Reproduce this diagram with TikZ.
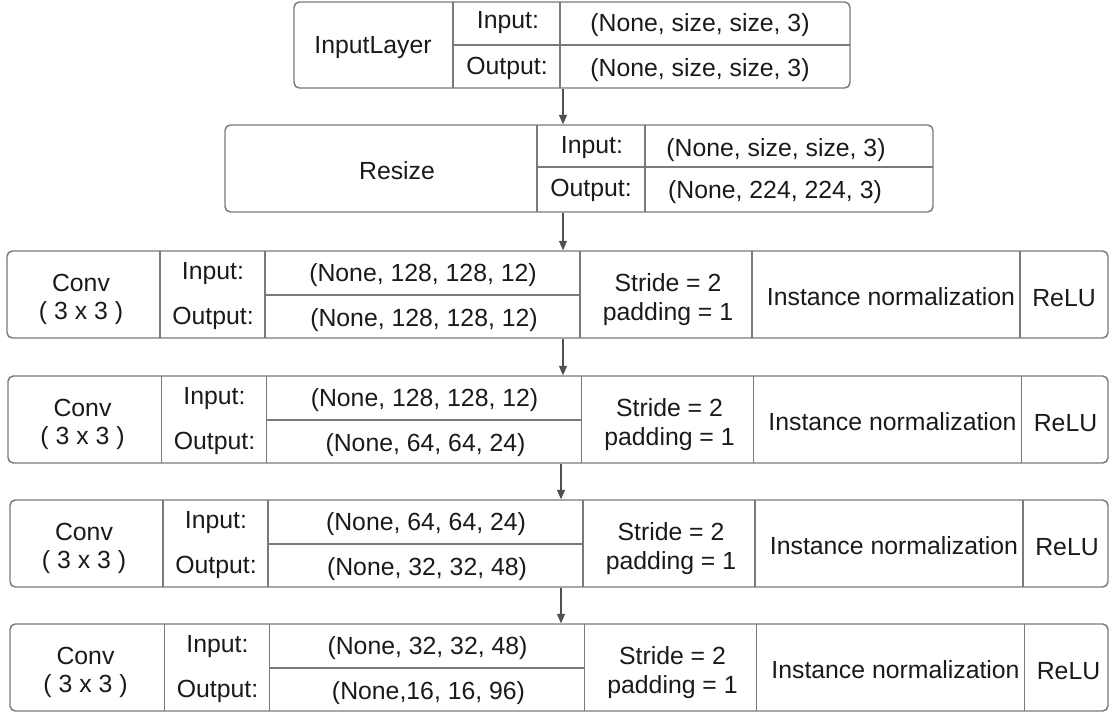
\documentclass[tikz,border=0pt]{standalone}
\usepackage{fontspec}
\setmainfont{Liberation Sans}
\usetikzlibrary{arrows.meta,fit}
\definecolor{linegray}{HTML}{7A7A7A}
\definecolor{arrowgray}{HTML}{505050}
\definecolor{textcol}{HTML}{1A1A1A}
\begin{document}
\begin{tikzpicture}[x=0.75pt,y=-0.75pt,
  outer/.style={draw=linegray, line width=1.1pt, rounded corners=4pt, rectangle, inner sep=0pt},
  div/.style={draw=linegray, line width=1pt},
  arr/.style={draw=arrowgray, line width=1pt, -{Triangle[length=7pt,width=6pt]}},
  txt/.style={font=\fontsize{18.6}{22}\selectfont, text=textcol, inner sep=0pt, yshift=-1.2pt}]
\useasboundingbox (0,0) rectangle (1110,713);
% InputLayer
\node[outer, fit={(294,2) (850,88)}] (in1) {};
\draw[div] (453,2) -- (453,88);
\draw[div] (560,2) -- (560,88);
\draw[div] (453,45) -- (850,45);
\node[txt] (in1name) at (373,46) {InputLayer};
\node[txt] (in1il) at (508,21) {Input:};
\node[txt] (in1ol) at (507,67) {Output:};
\node[txt] (in1iv) at (700,23) {(None, size, size, 3)};
\node[txt] (in1ov) at (700,68) {(None, size, size, 3)};
% Resize
\node[outer, fit={(225,125) (933,212)}] (rs) {};
\draw[div] (537,125) -- (537,212);
\draw[div] (645,125) -- (645,212);
\draw[div] (537,167) -- (933,167);
\node[txt] (rsname) at (397,169) {Resize};
\node[txt] (rsil) at (592,146) {Input:};
\node[txt] (rsol) at (591,189) {Output:};
\node[txt] (rsiv) at (776,148) {(None, size, size, 3)};
\node[txt] (rsov) at (775,190) {(None, 224, 224, 3)};
% Conv rows
\foreach \T/\d/\e/\i/\o [count=\k] in {
  251/0/0/{(None, 128, 128, 12)}/{(None, 128, 128, 12)},
  376/1/1.5/{(None, 128, 128, 12)}/{(None, 64, 64, 24)},
  500/3/3/{(None, 64, 64, 24)}/{(None, 32, 32, 48)},
  624/3/4.5/{(None, 32, 32, 48)}/{(None,16, 16, 96)}}{
  \node[outer, fit={({7+\d},\T) (1108,{\T+87})}] (c\k) {};
  \draw[div] ({160+\e},\T) -- ({160+\e},{\T+87});
  \draw[div] ({265+\e},\T) -- ({265+\e},{\T+87});
  \draw[div] ({580+\e},\T) -- ({580+\e},{\T+87});
  \draw[div] ({752+\e},\T) -- ({752+\e},{\T+87});
  \draw[div] ({1020+\e},\T) -- ({1020+\e},{\T+87});
  \draw[div] ({265+\e},{\T+44}) -- ({580+\e},{\T+44});
  \node[txt] (c\k a) at ({81+\e},{\T+30}) {Conv};
  \node[txt] (c\k b) at ({81+\e},{\T+60}) {( 3 x 3 )};
  \node[txt] (c\k il) at ({213+\e},{\T+21}) {Input:};
  \node[txt] (c\k ol) at ({213+\e},{\T+66}) {Output:};
  \node[txt] (c\k iv) at ({423+\e},{\T+22}) {\i};
  \node[txt] (c\k ov) at ({424+\e},{\T+67}) {\o};
  \node[txt] (c\k s) at ({668+\e},{\T+30}) {Stride = 2};
  \node[txt] (c\k p) at ({668+\e},{\T+61}) {padding = 1};
  \node[txt] (c\k n) at ({891+\e},{\T+44}) {Instance normalization};
  \node[txt] (c\k r) at ({1064+\e},{\T+45}) {ReLU};
}
% arrows
\coordinate (ax1) at (563,0);
\coordinate (ax2) at (561,0);
\draw[arr] (in1.south -| ax1) -- (rs.north -| ax1);
\draw[arr] (rs.south -| ax1) -- (c1.north -| ax1);
\draw[arr] (c1.south -| ax1) -- (c2.north -| ax1);
\draw[arr] (c2.south -| ax2) -- (c3.north -| ax2);
\draw[arr] (c3.south -| ax2) -- (c4.north -| ax2);
\end{tikzpicture}
\end{document}
